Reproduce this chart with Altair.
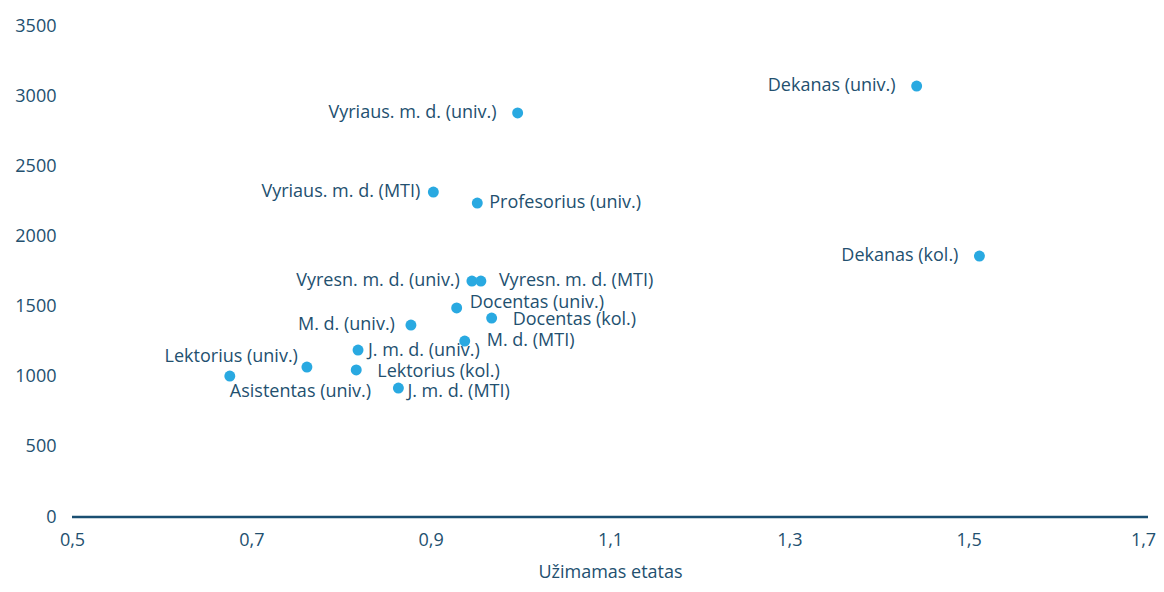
import altair as alt
import pandas as pd

names = [
    "Dekanas (univ.)", "Vyriaus. m. d. (univ.)", "Vyriaus. m. d. (MTI)",
    "Profesorius (univ.)", "Dekanas (kol.)", "Vyresn. m. d. (univ.)",
    "Vyresn. m. d. (MTI)", "Docentas (univ.)", "Docentas (kol.)",
    "M. d. (univ.)", "M. d. (MTI)", "J. m. d. (univ.)", "Lektorius (univ.)",
    "Lektorius (kol.)", "Asistentas (univ.)", "J. m. d. (MTI)",
]
etatas = [1.442, 0.997, 0.903, 0.952, 1.512, 0.946, 0.956, 0.929, 0.968,
          0.878, 0.938, 0.819, 0.762, 0.817, 0.676, 0.864]
values = [3072, 2880, 2316, 2238, 1860, 1682, 1682, 1490, 1418,
          1368, 1254, 1190, 1069, 1048, 1005, 919]

x_ticks = [0.5, 0.7, 0.9, 1.1, 1.3, 1.5, 1.7]
y_ticks = [0, 500, 1000, 1500, 2000, 2500, 3000, 3500]

df = pd.DataFrame({"name": names, "x": etatas, "y": values})

TEXT = "#23506f"
AXIS = "#1a4f72"
POINT = "#29a9e1"
FONT = "Open Sans"

# label placement (align, dx, dy)
placement = {
    "Dekanas (univ.)": ("right", -21, 0),
    "Vyriaus. m. d. (univ.)": ("right", -21, 0),
    "Vyriaus. m. d. (MTI)": ("right", -13, 0),
    "Profesorius (univ.)": ("left", 12, 0),
    "Dekanas (kol.)": ("right", -21, 0),
    "Vyresn. m. d. (univ.)": ("right", -12, 0),
    "Vyresn. m. d. (MTI)": ("left", 18, 0),
    "Docentas (univ.)": ("left", 13, -5),
    "Docentas (kol.)": ("left", 21, 2),
    "M. d. (univ.)": ("right", -16, 0),
    "M. d. (MTI)": ("left", 22, 0),
    "J. m. d. (univ.)": ("left", 10, 1),
    "Lektorius (univ.)": ("right", -9, -10),
    "Lektorius (kol.)": ("left", 21, 2),
    "Asistentas (univ.)": ("left", 0, 16),
    "J. m. d. (MTI)": ("left", 9, 4),
}

x_scale = alt.Scale(domain=[0.5, 1.7], nice=False, zero=False)
y_scale = alt.Scale(domain=[0, 3500], nice=False)

x_axis = alt.Axis(
    values=x_ticks,
    labelExpr="replace(format(datum.value, '.1f'), '.', ',')",
    title="Užimamas etatas",
    ticks=False,
    grid=False,
    domain=False,
    labelFlush=False,
    labelOffset={"condition": {"test": "datum.value > 1.69", "value": -5}, "value": 0},
    labelPadding=14,
    titlePadding=14,
    labelFontSize=18,
    titleFontSize=18,
    labelColor=TEXT,
    titleColor=TEXT,
    labelFont=FONT,
    titleFont=FONT,
    titleFontWeight="normal",
)
y_axis = alt.Axis(
    values=y_ticks,
    format="d",
    title=None,
    ticks=False,
    grid=False,
    domain=False,
    labelPadding=16,
    labelFontSize=18,
    labelColor=TEXT,
    labelFont=FONT,
)

base = alt.Chart(df)

axis_line = alt.Chart(pd.DataFrame({"y": [0]})).mark_rule(
    color=AXIS, strokeWidth=2.5
).encode(y=alt.Y("y:Q", scale=y_scale, axis=y_axis))

points = base.mark_circle(size=120, color=POINT, opacity=1).encode(
    x=alt.X("x:Q", scale=x_scale, axis=x_axis),
    y=alt.Y("y:Q", scale=y_scale, axis=y_axis),
)

layers = [axis_line, points]
for nm, (al, dx, dy) in placement.items():
    layers.append(
        base.transform_filter(alt.datum.name == nm)
        .mark_text(align=al, baseline="middle", dx=dx, dy=dy,
                   fontSize=18, font=FONT, color=TEXT)
        .encode(x="x:Q", y="y:Q", text="name:N")
    )

chart = (
    alt.layer(*layers)
    .properties(
        width=1076,
        height=491,
        background="white",
        autosize=alt.AutoSizeParams(type="none"),
        padding={"left": 64, "top": 18, "right": 8, "bottom": 67},
    )
    .configure_view(stroke="transparent", strokeWidth=0)
    .configure_axis(domain=False, grid=False, ticks=False)
)

chart.save("out.html", embed_options={"renderer": "svg", "actions": False})
